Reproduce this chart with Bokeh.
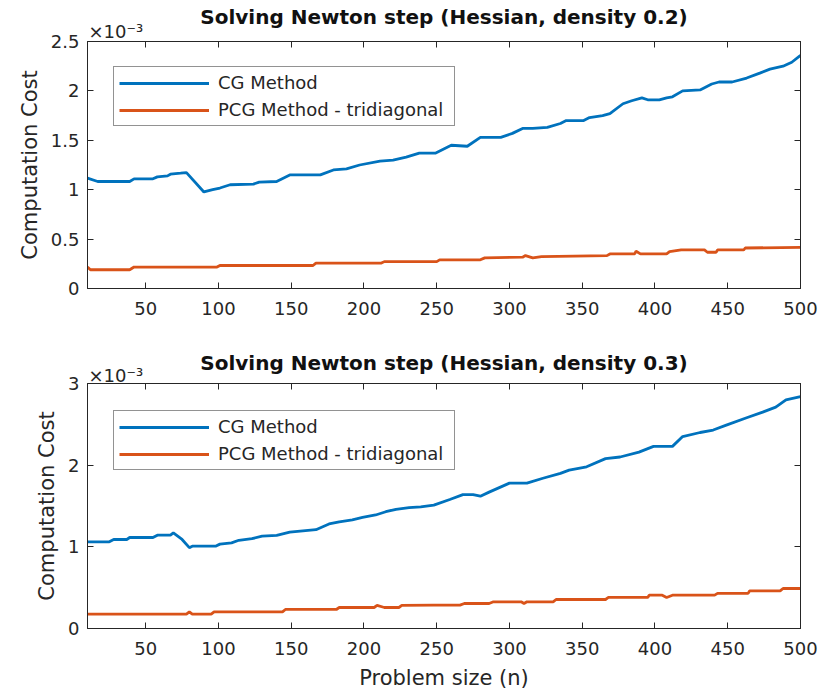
from bokeh.plotting import figure
from bokeh.models import (ColumnDataSource, FixedTicker, LinearAxis, Title, Legend,
                          LegendItem, CustomJSTickFormatter, Range1d)
from bokeh.layouts import column
from bokeh.embed import file_html
from bokeh.resources import INLINE

# ---------------- data (values in units of 1e-3) ----------------
x_ticks = [50, 100, 150, 200, 250, 300, 350, 400, 450, 500]
y_ticks_top = [0, 0.5, 1, 1.5, 2, 2.5]
y_ticks_bot = [0, 1, 2, 3]

titles = ["Solving Newton step (Hessian, density 0.2)",
          "Solving Newton step (Hessian, density 0.3)"]
series_names = ["CG Method", "PCG Method - tridiagonal"]
exponent_text = "\u00d710\u207b\u00b3"

# density 0.2
cg02_n = [10, 17, 39, 42, 55, 58, 65, 67, 74, 78, 90, 96, 101, 108, 124, 128, 140, 149,
          170, 179, 188, 197, 211, 220, 229, 238, 249, 260, 271, 280, 294, 302, 309, 316,
          326, 335, 339, 351, 355, 364, 369, 378, 384, 391, 395, 403, 408, 412, 419, 431,
          439, 444, 453, 463, 472, 479, 488, 494, 500]
cg02_v = [1.117, 1.083, 1.083, 1.11, 1.11, 1.13, 1.14, 1.157, 1.167, 1.173, 0.977, 1.0,
          1.017, 1.05, 1.057, 1.077, 1.083, 1.15, 1.15, 1.2, 1.21, 1.25, 1.29, 1.30, 1.33,
          1.37, 1.37, 1.45, 1.44, 1.53, 1.53, 1.57, 1.62, 1.62, 1.63, 1.67, 1.70, 1.70, 1.73,
          1.75, 1.77, 1.87, 1.90, 1.93, 1.91, 1.91, 1.93, 1.94, 2.0, 2.01, 2.07, 2.09, 2.09,
          2.13, 2.18, 2.22, 2.25, 2.29, 2.36]
pcg02_n = [10, 12, 39, 42, 99, 101, 165, 167, 212, 214, 250, 252, 280, 283, 309, 311, 316,
           322, 367, 369, 386, 387, 390, 408, 410, 418, 434, 436, 442, 443, 461, 462, 500]
pcg02_v = [0.217, 0.19, 0.19, 0.217, 0.217, 0.233, 0.233, 0.257, 0.257, 0.272, 0.272, 0.29,
           0.29, 0.31, 0.317, 0.333, 0.31, 0.323, 0.333, 0.35, 0.35, 0.377, 0.35, 0.35, 0.373,
           0.39, 0.39, 0.367, 0.367, 0.39, 0.39, 0.41, 0.417]

# density 0.3
cg03_n = [10, 25, 28, 37, 39, 55, 58, 67, 69, 75, 80, 82, 98, 101, 109, 114, 123, 130, 140,
          149, 158, 167, 176, 183, 192, 199, 208, 215, 222, 231, 239, 248, 259, 268, 275, 280,
          286, 300, 312, 323, 335, 341, 353, 366, 376, 389, 399, 412, 419, 431, 440, 449, 463,
          474, 483, 490, 500]
cg03_v = [1.061, 1.061, 1.09, 1.09, 1.114, 1.114, 1.143, 1.143, 1.171, 1.09, 0.99, 1.008,
          1.008, 1.033, 1.049, 1.08, 1.10, 1.13, 1.14, 1.18, 1.196, 1.21, 1.28, 1.306, 1.33,
          1.36, 1.39, 1.43, 1.46, 1.48, 1.49, 1.51, 1.58, 1.64, 1.64, 1.62, 1.67, 1.78, 1.78,
          1.84, 1.90, 1.94, 1.98, 2.08, 2.10, 2.16, 2.23, 2.23, 2.35, 2.40, 2.43, 2.49, 2.58,
          2.65, 2.71, 2.80, 2.84]
pcg03_n = [10, 78, 80, 82, 95, 97, 144, 146, 181, 183, 207, 209, 214, 224, 226, 248, 266, 269,
           286, 289, 308, 310, 312, 330, 332, 366, 368, 395, 396, 405, 408, 412, 441, 443, 464,
           465, 486, 488, 500]
pcg03_v = [0.176, 0.176, 0.204, 0.176, 0.176, 0.204, 0.204, 0.233, 0.233, 0.257, 0.257, 0.282,
           0.257, 0.257, 0.282, 0.286, 0.286, 0.306, 0.306, 0.327, 0.327, 0.306, 0.327, 0.327,
           0.355, 0.355, 0.38, 0.38, 0.408, 0.408, 0.38, 0.408, 0.408, 0.43, 0.43, 0.46, 0.46,
           0.49, 0.49]

SCALE = 1e-3

# ---------------- style ----------------
FONT = "DejaVu Sans"
INK = "#262626"
BLUE = "#0072BD"
ORANGE = "#D95319"


def make_panel(title, cg_n, cg_v, pcg_n, pcg_v, yticks, height, top, bottom,
               legend_y, exp_standoff, title_standoff, xlabel=None):
    ymax = yticks[-1] * SCALE
    p = figure(width=822, height=height, x_range=Range1d(10, 500),
               y_range=Range1d(0, ymax), output_backend="svg", toolbar_location=None,
               min_border_left=87, min_border_right=22, min_border_top=top,
               min_border_bottom=bottom)
    p.xgrid.visible = False
    p.ygrid.visible = False
    p.outline_line_color = INK
    p.outline_line_width = 1
    p.background_fill_color = "white"

    src_cg = ColumnDataSource(dict(x=cg_n, y=[v * SCALE for v in cg_v]))
    src_pcg = ColumnDataSource(dict(x=pcg_n, y=[v * SCALE for v in pcg_v]))
    r1 = p.line("x", "y", source=src_cg, line_color=BLUE, line_width=2.8)
    r2 = p.line("x", "y", source=src_pcg, line_color=ORANGE, line_width=2.8)

    fmt = CustomJSTickFormatter(code="return String(Math.round(tick*1e4)/10);")
    empty = CustomJSTickFormatter(code="return '';")

    # primary axes
    xa = p.xaxis[0]
    xa.ticker = FixedTicker(ticks=x_ticks)
    ya = p.yaxis[0]
    ya.ticker = FixedTicker(ticks=[t * SCALE for t in yticks])
    ya.formatter = fmt
    for ax in (xa, ya):
        ax.major_tick_in = 6
        ax.major_tick_out = 0
        ax.minor_tick_in = 0
        ax.minor_tick_out = 0
        ax.axis_line_color = INK
        ax.major_tick_line_color = INK
        ax.major_label_text_font = FONT
        ax.major_label_text_font_size = "18px"
        ax.major_label_text_color = INK
        ax.axis_label_text_font = FONT
        ax.axis_label_text_font_size = "21px"
        ax.axis_label_text_font_style = "normal"
        ax.axis_label_text_color = INK
    xa.major_label_standoff = 13
    ya.major_label_standoff = 8
    ya.axis_label = "Computation Cost"
    ya.axis_label_standoff = 6
    if xlabel:
        xa.axis_label = xlabel
        xa.axis_label_standoff = 8

    # mirrored axes (box with inward ticks)
    top_ax = LinearAxis(ticker=FixedTicker(ticks=x_ticks), formatter=empty,
                        major_tick_in=6, major_tick_out=0, minor_tick_in=0,
                        minor_tick_out=0, axis_line_color=INK,
                        major_tick_line_color=INK, major_label_standoff=0)
    right_ax = LinearAxis(ticker=FixedTicker(ticks=[t * SCALE for t in yticks]),
                          formatter=empty, major_tick_in=6, major_tick_out=0,
                          minor_tick_in=0, minor_tick_out=0, axis_line_color=INK,
                          major_tick_line_color=INK, major_label_standoff=0)
    p.add_layout(top_ax, "above")
    p.add_layout(right_ax, "right")

    # axis exponent (x10^-3) just above the top-left corner
    p.add_layout(Title(text=exponent_text, align="left", offset=1,
                       text_font=FONT, text_font_size="18px", text_font_style="normal",
                       text_color=INK, standoff=exp_standoff), "above")

    # main title
    p.title.text = title
    p.title.align = "center"
    p.title.text_font = FONT
    p.title.text_font_size = "20px"
    p.title.text_font_style = "bold"
    p.title.text_color = "#111111"
    p.title.standoff = title_standoff

    legend = Legend(items=[LegendItem(label=series_names[0], renderers=[r1]),
                           LegendItem(label=series_names[1], renderers=[r2])],
                    location=(26, legend_y))
    legend.border_line_color = INK
    legend.border_line_width = 1
    legend.background_fill_color = "white"
    legend.background_fill_alpha = 1
    legend.label_text_font = FONT
    legend.label_text_font_size = "18px"
    legend.label_text_color = INK
    legend.label_text_line_height = 1.0
    legend.glyph_width = 90
    legend.glyph_height = 20
    legend.label_height = 20
    legend.label_width = 231
    legend.label_standoff = 9
    legend.padding = 5
    legend.spacing = 6
    legend.margin = 0
    p.add_layout(legend)
    return p


p1 = make_panel(titles[0], cg02_n, cg02_v, pcg02_n, pcg02_v, y_ticks_top,
                height=334, top=41, bottom=46, legend_y=162, exp_standoff=-1,
                title_standoff=-19)
p2 = make_panel(titles[1], cg03_n, cg03_v, pcg03_n, pcg03_v, y_ticks_bot,
                height=362, top=49, bottom=68, legend_y=158, exp_standoff=-4,
                title_standoff=-20, xlabel="Problem size (n)")

layout = column(p1, p2, spacing=0)
open("out.html", "w").write(file_html(layout, INLINE))
